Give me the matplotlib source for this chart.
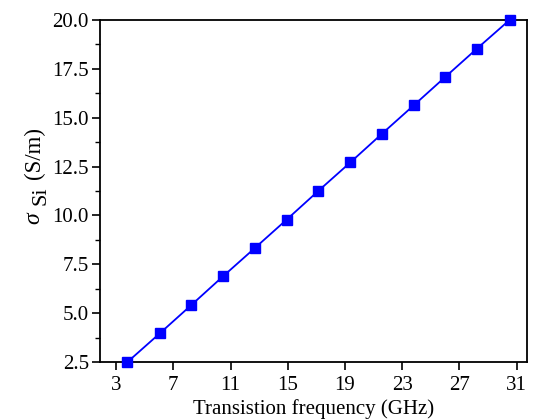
import numpy as np
import matplotlib
matplotlib.use("Agg")
import matplotlib.pyplot as plt
from matplotlib.ticker import MultipleLocator, FormatStrFormatter

plt.rcParams['font.family'] = ['Liberation Serif', 'DejaVu Serif']
plt.rcParams['mathtext.fontset'] = 'custom'
plt.rcParams['mathtext.rm'] = 'Liberation Serif'
plt.rcParams['mathtext.it'] = 'Liberation Serif:italic'

freq = [3.8, 6.05, 8.27, 10.47, 12.7, 14.93, 17.13, 19.37, 21.57, 23.8, 26.0, 28.23, 30.5]
sigma = [2.5, 3.96, 5.42, 6.88, 8.33, 9.79, 11.25, 12.71, 14.17, 15.63, 17.08, 18.54, 20.0]

W, H = 535, 420
fig = plt.figure(figsize=(W/100, H/100), dpi=100)
ax = fig.add_axes([100/W, 1 - 362/H, 427/W, 342/H])

ax.plot(freq, sigma, color='#0000FF', lw=1.3, marker='s', ms=7.5,
        markeredgecolor='#0000FF', clip_on=False, zorder=3)

ax.set_xlim(1.88, 31.72)
ax.set_ylim(2.5, 20.0)
ax.set_xticks(np.arange(3, 32, 4))
ax.yaxis.set_major_locator(MultipleLocator(2.5))
ax.yaxis.set_minor_locator(MultipleLocator(1.25))
ax.yaxis.set_major_formatter(FormatStrFormatter('%.1f'))
ax.tick_params(axis='both', which='major', direction='out', length=6, width=1.2,
               labelsize=15, colors='black')
ax.tick_params(axis='x', pad=4)
ax.tick_params(axis='y', pad=2)
ax.tick_params(axis='y', which='minor', direction='out', length=3.5, width=1.0)
for s in ax.spines.values():
    s.set_linewidth(1.3)

ax.set_xlabel('Transistion frequency (GHz)', fontsize=15, labelpad=3)

# y label built from pieces so the subscript keeps a readable size
def px(x, y):
    return x / W, 1 - y / H

fig.text(*px(34, 153), '(S/m)', rotation=90, ha='center', va='center', fontsize=16.5)
fig.text(*px(41, 196), 'Si', rotation=90, ha='center', va='center', fontsize=16)
fig.text(*px(34, 218), r'$\sigma$', rotation=90, ha='center', va='center', fontsize=17)

fig.savefig('out.png', dpi=100)
